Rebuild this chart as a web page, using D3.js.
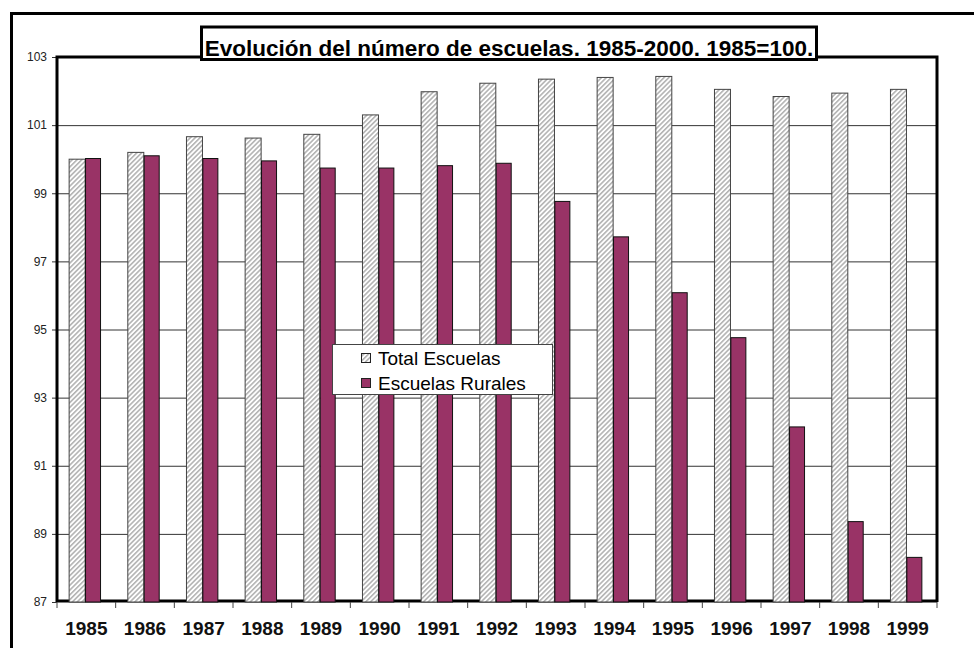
<!DOCTYPE html>
<html>
<head>
  <meta charset="utf-8">
  <title>Evolución del número de escuelas</title>
  <script src="https://cdn.jsdelivr.net/npm/d3@7"></script>
  <style>
    html, body { margin: 0; padding: 0; background: #fff; }
    svg { display: block; font-family: Arial, "Liberation Sans", sans-serif; }
    .y.axis text { font-size: 12px; fill: #222; }
    .x.axis text { font-size: 19px; font-weight: bold; fill: #111; }
    .grid line { stroke: #333; stroke-width: 1px; }
    .domain { display: none; }
  </style>
</head>
<body>
  <svg class="svg" width="974" height="648"></svg>
  <script>
    var years = ['1985', '1986', '1987', '1988', '1989', '1990', '1991', '1992',
      '1993', '1994', '1995', '1996', '1997', '1998', '1999'];
    var totalEscuelas = [100.0, 100.2, 100.66, 100.62, 100.73, 101.3, 101.98, 102.23,
      102.35, 102.4, 102.43, 102.05, 101.84, 101.94, 102.05];
    var escuelasRurales = [100.02, 100.1, 100.02, 99.95, 99.74, 99.74, 99.81, 99.88,
      98.76, 97.72, 96.08, 94.76, 92.14, 89.36, 88.31];
    var yTicks = [87, 89, 91, 93, 95, 97, 99, 101, 103];
    var seriesNames = ['Total Escuelas', 'Escuelas Rurales'];
    var title = 'Evolución del número de escuelas. 1985-2000. 1985=100.';

    var svg = d3.select('.svg');
    var plotL = 57, plotR = 937, plotT = 57, plotB = 602;

    var defs = svg.append('defs');
    var pat = defs.append('pattern')
      .attr('id', 'hatch')
      .attr('patternUnits', 'userSpaceOnUse')
      .attr('width', 3.4)
      .attr('height', 3.4)
      .attr('patternTransform', 'rotate(45)');
    pat.append('rect').attr('width', 3.4).attr('height', 3.4).attr('fill', '#fff');
    pat.append('line')
      .attr('x1', 0.8).attr('y1', 0).attr('x2', 0.8).attr('y2', 3.4)
      .attr('stroke', '#a8a8a8').attr('stroke-width', 1.4);

    // marco exterior
    svg.append('rect')
      .attr('x', 11.5).attr('y', 13.5)
      .attr('width', 1000).attr('height', 700)
      .attr('fill', 'none').attr('stroke', '#000').attr('stroke-width', 3);

    var x = d3.scaleBand().domain(years).range([plotL, plotR]);
    var y = d3.scaleLinear().domain([87, 103]).range([plotB, plotT]);

    // rejilla
    svg.append('g')
      .attr('class', 'grid')
      .attr('transform', 'translate(' + plotL + ',0)')
      .call(d3.axisLeft(y).tickValues(yTicks.slice(1, -1)).tickSize(-(plotR - plotL)).tickFormat(''));

    // eje y
    svg.append('g')
      .attr('class', 'y axis')
      .attr('transform', 'translate(' + plotL + ',0)')
      .call(d3.axisLeft(y).tickValues(yTicks).tickSize(5).tickPadding(5))
      .selectAll('line').attr('stroke', '#333');

    // suelo
    svg.append('line')
      .attr('x1', plotL).attr('x2', plotR)
      .attr('y1', plotB - 1).attr('y2', plotB - 1)
      .attr('stroke', '#000').attr('stroke-width', 3);

    // barras
    var bw = 16;
    var g = svg.append('g');
    g.selectAll('.total')
      .data(years)
      .enter()
      .append('rect')
      .attr('class', 'total')
      .attr('x', (d, i) => x(d) + x.bandwidth() / 2 - bw - 1.2)
      .attr('y', (d, i) => y(totalEscuelas[i]))
      .attr('width', bw)
      .attr('height', (d, i) => y(87) - y(totalEscuelas[i]))
      .attr('fill', 'url(#hatch)')
      .attr('stroke', '#444')
      .attr('stroke-width', 1);

    g.selectAll('.rural')
      .data(years)
      .enter()
      .append('rect')
      .attr('class', 'rural')
      .attr('x', (d, i) => x(d) + x.bandwidth() / 2 - 0.8)
      .attr('y', (d, i) => y(escuelasRurales[i]))
      .attr('width', bw - 1)
      .attr('height', (d, i) => y(87) - y(escuelasRurales[i]))
      .attr('fill', '#993366')
      .attr('stroke', '#111')
      .attr('stroke-width', 1);

    // bordes del área de trazado
    svg.append('path')
      .attr('d', 'M' + plotL + ',' + plotB + 'V' + plotT + 'H' + plotR + 'V' + plotB)
      .attr('fill', 'none').attr('stroke', '#000').attr('stroke-width', 3)
      .attr('stroke-linejoin', 'miter');

    // eje x
    svg.append('g')
      .attr('class', 'x axis')
      .attr('transform', 'translate(0,' + plotB + ')')
      .call(d3.axisBottom(x).tickSize(0).tickPadding(20));

    svg.append('g')
      .selectAll('line')
      .data(years.concat(['end']))
      .enter()
      .append('line')
      .attr('x1', (d, i) => i < years.length ? x(d) : plotR)
      .attr('x2', (d, i) => i < years.length ? x(d) : plotR)
      .attr('y1', plotB)
      .attr('y2', plotB + 6)
      .attr('stroke', '#444');

    // leyenda
    var lg = svg.append('g').attr('transform', 'translate(332,344)');
    lg.append('rect')
      .attr('x', 0.5).attr('y', 0.5)
      .attr('width', 220).attr('height', 50)
      .attr('fill', '#fff').attr('stroke', '#444');
    var items = lg.selectAll('.item')
      .data(seriesNames)
      .enter()
      .append('g')
      .attr('transform', (d, i) => 'translate(0,' + (7 + i * 25) + ')');
    items.append('rect')
      .attr('x', 29.5).attr('y', 2.5)
      .attr('width', 9).attr('height', 9)
      .attr('fill', (d, i) => i === 0 ? 'url(#hatch)' : '#993366')
      .attr('stroke', '#222');
    items.append('text')
      .attr('x', 46).attr('y', 13.5)
      .attr('font-size', '19px')
      .attr('fill', '#000')
      .text(d => d);

    // título
    svg.append('rect')
      .attr('x', 201.5).attr('y', 27)
      .attr('width', 615).attr('height', 32.5)
      .attr('fill', '#fff').attr('stroke', '#000').attr('stroke-width', 3);
    svg.append('text')
      .attr('x', 509).attr('y', 56)
      .attr('text-anchor', 'middle')
      .attr('font-size', '22.5px')
      .attr('font-weight', 'bold')
      .text(title);
  </script>
</body>
</html>
